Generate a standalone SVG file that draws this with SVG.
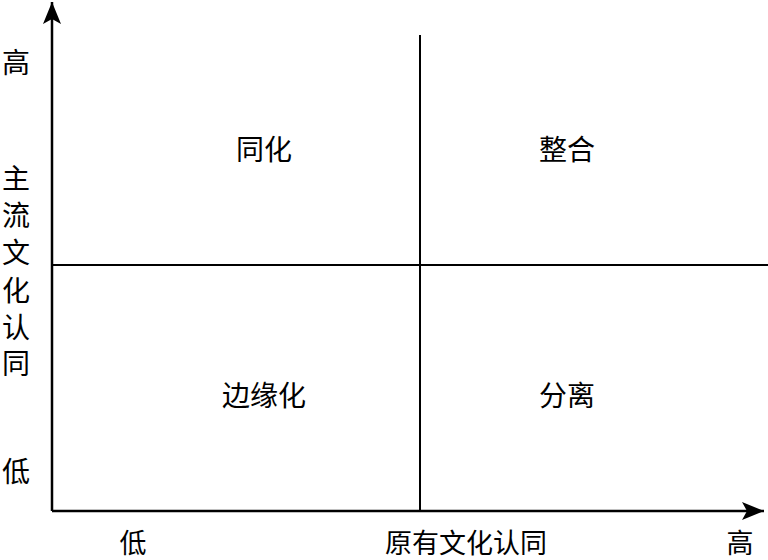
<svg xmlns="http://www.w3.org/2000/svg" width="768" height="560" viewBox="0 0 768 560">
<style>
.ax{stroke:#000;stroke-width:2.5;fill:none}
.dv{stroke:#000;stroke-width:2;fill:none}
text{font-family:"Liberation Serif","Noto Sans CJK SC",serif;font-size:28px;fill:#000;text-anchor:middle}
.b{font-size:27px}
</style>
<defs>
<marker id="arr" markerUnits="userSpaceOnUse" markerWidth="24" markerHeight="18" refX="22" refY="9" orient="auto">
<path d="M0,0 L22,9 L0,18 L5,9 Z" fill="#000"/>
</marker>
</defs>
<rect width="768" height="560" fill="#fff"/>
<g id="connectors">
<line class="ax" x1="52" y1="511" x2="52" y2="2" marker-end="url(#arr)"/>
<line class="ax" x1="52" y1="511" x2="764" y2="511" marker-end="url(#arr)"/>
<line class="dv" x1="420" y1="35" x2="420" y2="511"/>
<line class="dv" x1="52" y1="265" x2="768" y2="265"/>
</g>
<g id="y-axis-labels">
<text x="16" y="73">高</text>
<text x="16" y="189">主</text>
<text x="16" y="226">流</text>
<text x="16" y="263">文</text>
<text x="16" y="301">化</text>
<text x="16" y="338">认</text>
<text x="16" y="374">同</text>
<text x="16" y="482">低</text>
</g>
<g id="x-axis-labels">
<text class="b" x="133" y="553">低</text>
<text class="b" x="466" y="553">原有文化认同</text>
<text class="b" x="740" y="553">高</text>
</g>
<g id="q-assimilation"><text x="264" y="160">同化</text></g>
<g id="q-integration"><text x="567" y="160">整合</text></g>
<g id="q-marginalization"><text x="264" y="406">边缘化</text></g>
<g id="q-separation"><text x="567" y="406">分离</text></g>
</svg>
